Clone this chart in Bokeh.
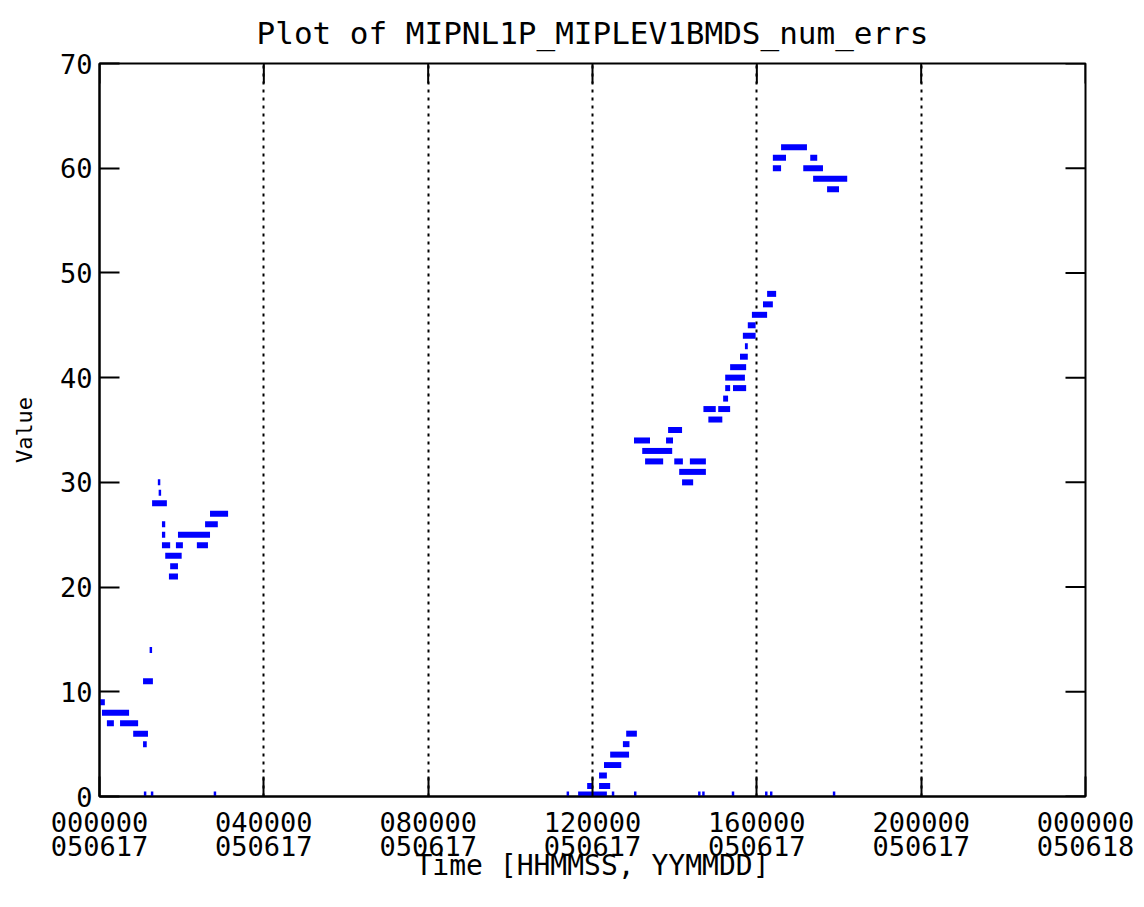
import math
from bokeh.plotting import figure
from bokeh.models import Range1d, FixedTicker, LinearAxis, ColumnDataSource
from bokeh.embed import file_html
from bokeh.resources import INLINE

# ---- data (time in hours since 000000 050617) ----
run_start = [0.00, 0.06, 0.18, 0.50, 0.82, 1.06, 1.06, 1.22, 1.42, 1.44, 1.28, 1.52, 1.52, 1.52,
             1.60, 1.72, 1.69, 1.86, 1.91, 2.37, 2.57, 2.69,
             11.87, 12.16, 12.16, 12.28, 12.43, 12.74, 12.82,
             13.01, 13.79, 13.21, 13.28, 13.99, 14.37, 14.11, 14.18, 13.84,
             14.70, 15.06, 14.82, 15.18, 15.23, 15.42, 15.23, 15.35, 15.59, 15.71,
             15.66, 15.78, 15.88, 16.15, 16.25,
             16.39, 16.39, 16.59, 17.30, 17.13, 17.37, 17.71]
run_end = [0.13, 0.72, 0.35, 0.94, 1.18, 1.15, 1.30, 1.28, 1.48, 1.50, 1.64, 1.60, 1.60, 1.72,
           2.00, 1.91, 1.91, 2.03, 2.69, 2.64, 2.88, 3.13,
           12.00, 12.43, 12.35, 12.70, 12.89, 12.90, 13.08,
           13.40, 13.96, 13.94, 13.72, 14.20, 14.76, 14.76, 14.45, 14.18,
           15.00, 15.35, 15.16, 15.30, 15.35, 15.74, 15.71, 15.74, 15.78, 15.78,
           15.97, 15.97, 16.25, 16.39, 16.47,
           16.59, 16.71, 17.22, 17.47, 17.61, 18.20, 18.00]
run_value = [9, 8, 7, 7, 6, 5, 11, 14, 30, 29, 28, 26, 25, 24,
             23, 22, 21, 24, 25, 24, 26, 27,
             1, 1, 2, 3, 4, 5, 6,
             34, 34, 33, 32, 32, 32, 31, 30, 35,
             37, 37, 36, 38, 39, 39, 40, 41, 42, 43,
             44, 45, 46, 47, 48,
             60, 61, 62, 61, 60, 59, 58]

zero_start = [1.08, 1.25, 2.78, 11.37, 11.65, 12.47, 13.01, 14.57, 14.67, 15.39, 16.20, 16.32, 17.85]
zero_end = [1.14, 1.31, 2.84, 11.43, 12.35, 12.53, 13.07, 14.63, 14.73, 15.45, 16.26, 16.38, 17.91]
zero_value = [0] * len(zero_start)

x_ticks = [0, 4, 8, 12, 16, 20, 24]
x_tick_times = ["000000", "040000", "080000", "120000", "160000", "200000", "000000"]
x_tick_dates = ["050617", "050617", "050617", "050617", "050617", "050617", "050618"]
y_ticks = [0, 10, 20, 30, 40, 50, 60, 70]
X_MIN, X_MAX, Y_MIN, Y_MAX = 0, 24, 0, 70

FONT = "DejaVu Sans Mono"

p = figure(width=1136, height=899, output_backend="svg", toolbar_location=None,
           x_range=Range1d(X_MIN, X_MAX), y_range=Range1d(Y_MIN, Y_MAX),
           x_axis_location=None, y_axis_location=None,
           min_border_left=99, min_border_top=62, min_border_right=51, min_border_bottom=104,
           title="Plot of MIPNL1P_MIPLEV1BMDS_num_errs")
p.frame_width = 986
p.frame_height = 733
p.outline_line_color = "black"
p.outline_line_width = 2
p.background_fill_color = "white"
p.border_fill_color = "white"

p.title.align = "center"
p.title.text_font = FONT
p.title.text_font_size = "31px"
p.title.text_font_style = "normal"
p.title.text_color = "black"
p.title.standoff = 25

def style_axis(ax):
    ax.axis_line_color = "black"
    ax.axis_line_width = 2
    ax.major_tick_in = 20
    ax.major_tick_out = 0
    ax.major_tick_line_width = 2
    ax.major_tick_line_color = "black"
    ax.minor_tick_line_color = None
    ax.major_label_text_font = FONT
    ax.major_label_text_color = "black"
    ax.axis_label_text_font = FONT
    ax.axis_label_text_font_style = "normal"
    ax.axis_label_text_color = "black"

# bottom axis: first label line (HHMMSS) with ticks
xb = LinearAxis(ticker=FixedTicker(ticks=x_ticks),
                major_label_overrides={t: l for t, l in zip(x_ticks, x_tick_times)})
style_axis(xb)
xb.major_label_text_font_size = "27px"
xb.major_label_standoff = 15
p.add_layout(xb, "below")

# second bottom axis: date line (YYMMDD) and axis title
xb2 = LinearAxis(ticker=FixedTicker(ticks=x_ticks),
                 major_label_overrides={t: l for t, l in zip(x_ticks, x_tick_dates)},
                 axis_label="Time [HHMMSS, YYMMDD]")
style_axis(xb2)
xb2.axis_line_color = None
xb2.major_tick_line_color = None
xb2.major_tick_in = 0
xb2.major_label_text_font_size = "27px"
xb2.major_label_standoff = 1
xb2.axis_label_text_font_size = "28px"
xb2.axis_label_standoff = -10
p.add_layout(xb2, "below")

yl = LinearAxis(ticker=FixedTicker(ticks=y_ticks), axis_label="Value")
style_axis(yl)
yl.major_label_text_font_size = "27px"
yl.major_label_standoff = 7
yl.axis_label_text_font_size = "22px"
yl.axis_label_standoff = 20
p.add_layout(yl, "left")

# inward ticks on the top and right frame edges
p.ray(x=x_ticks, y=[Y_MAX] * len(x_ticks), length=20, length_units="screen",
      angle=-math.pi / 2, line_color="black", line_width=2)
p.ray(x=[X_MAX] * len(y_ticks), y=y_ticks, length=20, length_units="screen",
      angle=math.pi, line_color="black", line_width=2)

p.xgrid.ticker = FixedTicker(ticks=[4, 8, 12, 16, 20])
p.xgrid.grid_line_color = "black"
p.xgrid.grid_line_width = 2
p.xgrid.grid_line_dash = "3 5"
p.ygrid.grid_line_color = None

src = ColumnDataSource(dict(x0=run_start, x1=run_end, y=run_value))
p.segment(x0="x0", y0="y", x1="x1", y1="y", source=src,
          line_color="#0000ff", line_width=6, line_cap="butt")

zsrc = ColumnDataSource(dict(x0=zero_start, x1=zero_end, y=zero_value))
p.segment(x0="x0", y0="y", x1="x1", y1="y", source=zsrc,
          line_color="#0000ff", line_width=10, line_cap="butt")

open("out.html", "w").write(file_html(p, INLINE))
